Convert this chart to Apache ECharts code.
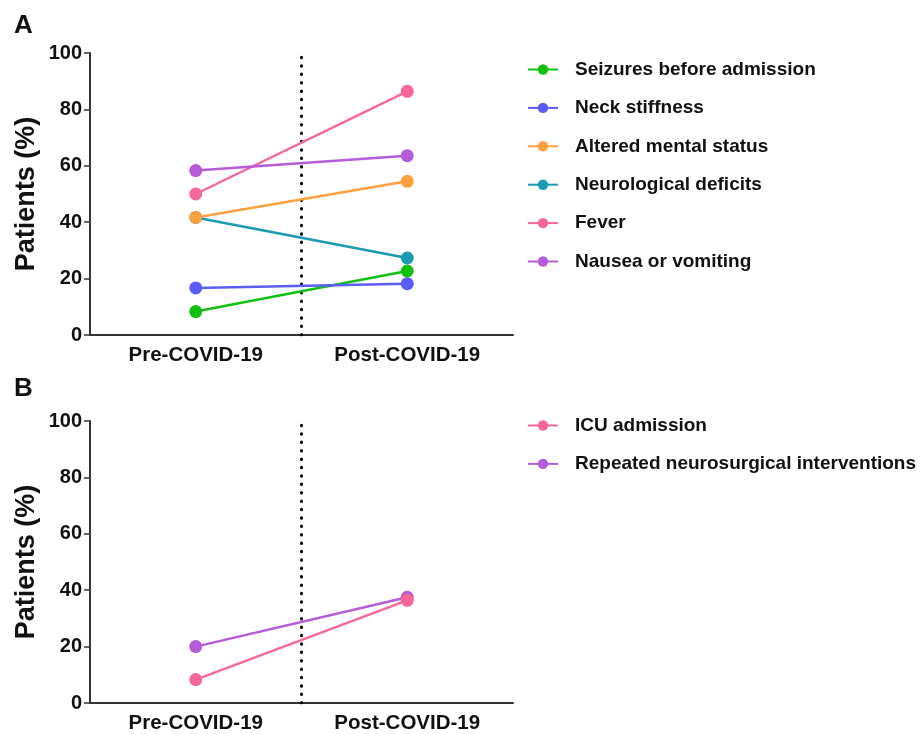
<!DOCTYPE html>
<html>
<head>
<meta charset="utf-8">
<script src="https://cdn.jsdelivr.net/npm/echarts@6/dist/echarts.min.js"></script>
<style>
  html, body { margin: 0; padding: 0; background: #fff; }
  #main { width: 922px; height: 734px; }
</style>
</head>
<body>
<div id="main"></div>
<script>
var categories = ['Pre-COVID-19', 'Post-COVID-19'];
var yTicks = [0, 20, 40, 60, 80, 100];

// panel A
var seizures = [8.3, 22.7];
var neckStiffness = [16.7, 18.2];
var alteredMental = [41.7, 54.5];
var neuroDeficits = [41.7, 27.3];
var fever = [50.0, 86.4];
var nausea = [58.3, 63.6];

// panel B
var icuAdmission = [8.3, 36.4];
var repeatedInterventions = [20.0, 37.5];

var legendA = ['Seizures before admission', 'Neck stiffness', 'Altered mental status',
               'Neurological deficits', 'Fever', 'Nausea or vomiting'];
var legendB = ['ICU admission', 'Repeated neurosurgical interventions'];

var font = 'Liberation Sans, Arial, sans-serif';
var myChart = echarts.init(document.getElementById('main'));

function catAxis(gridIndex) {
    return {
        type: 'category',
        gridIndex: gridIndex,
        data: categories,
        boundaryGap: true,
        axisLine: { lineStyle: { color: '#333', width: 2 } },
        axisTick: { alignWithLabel: true, length: 6, lineStyle: { color: '#333', width: 1.5 } },
        axisLabel: { color: '#111', fontSize: 20.5, fontWeight: 'bold', fontFamily: font, margin: 10 }
    };
}
function dividerAxis(gridIndex) {
    return { type: 'value', gridIndex: gridIndex, min: 0, max: 2, show: false };
}
function valAxis(gridIndex) {
    return {
        type: 'value',
        gridIndex: gridIndex,
        min: yTicks[0],
        max: yTicks[yTicks.length - 1],
        interval: 20,
        name: 'Patients (%)',
        nameLocation: 'middle',
        nameGap: 50,
        nameTextStyle: { color: '#111', fontSize: 27, fontWeight: 'bold', fontFamily: font },
        axisLine: { show: true, lineStyle: { color: '#333', width: 2 } },
        axisTick: { show: true, length: 6, lineStyle: { color: '#333', width: 1.5 } },
        splitLine: { show: false },
        axisLabel: { color: '#111', fontSize: 20, fontWeight: 'bold', fontFamily: font, margin: 8 }
    };
}
function line(name, data, color, axisIdx) {
    return {
        name: name,
        type: 'line',
        xAxisIndex: axisIdx,
        yAxisIndex: axisIdx,
        data: data,
        symbol: 'circle',
        symbolSize: 13,
        color: color,
        lineStyle: { width: 2.5, color: color },
        itemStyle: { color: color },
        emphasis: { disabled: true },
        animation: false
    };
}
function divider(xIdx, yIdx) {
    return {
        type: 'line',
        xAxisIndex: xIdx,
        yAxisIndex: yIdx,
        data: [[1, 0], [1, 100]],
        symbol: 'none',
        lineStyle: { color: '#000', width: 3, type: [0.5, 7.9], cap: 'round' },
        silent: true,
        animation: false,
        z: 1
    };
}

var legendText = { color: '#111', fontSize: 19, fontWeight: 'bold', fontFamily: font, padding: [0, 0, 0, 12] };

let option = {
    backgroundColor: '#fff',
    title: [
        { text: 'A', left: 9, top: 8, textStyle: { fontSize: 26, fontWeight: 'bold', fontFamily: font, color: '#111' } },
        { text: 'B', left: 9, top: 371, textStyle: { fontSize: 26, fontWeight: 'bold', fontFamily: font, color: '#111' } }
    ],
    grid: [
        { left: 90, width: 423, top: 53, height: 282 },
        { left: 90, width: 423, top: 421, height: 282 }
    ],
    legend: [
        { data: legendA, orient: 'vertical', left: 527, top: 60, padding: 0, itemWidth: 30, itemHeight: 13,
          itemGap: 19.4, textStyle: legendText, selectedMode: false },
        { data: legendB, orient: 'vertical', left: 527, top: 416, padding: 0, itemWidth: 30, itemHeight: 13,
          itemGap: 19.4, textStyle: legendText, selectedMode: false }
    ],
    xAxis: [catAxis(0), catAxis(1), dividerAxis(0), dividerAxis(1)],
    yAxis: [valAxis(0), valAxis(1)],
    series: [
        divider(2, 0),
        divider(3, 1),
        line('Seizures before admission', seizures, '#11C011', 0),
        line('Neck stiffness', neckStiffness, '#5B5BF5', 0),
        line('Neurological deficits', neuroDeficits, '#1A9BB2', 0),
        line('Altered mental status', alteredMental, '#FFA040', 0),
        line('Fever', fever, '#F7689A', 0),
        line('Nausea or vomiting', nausea, '#B65BDA', 0),
        line('Repeated neurosurgical interventions', repeatedInterventions, '#B65BDA', 1),
        line('ICU admission', icuAdmission, '#F7689A', 1)
    ]
};

myChart.setOption(option);
</script>
</body>
</html>
